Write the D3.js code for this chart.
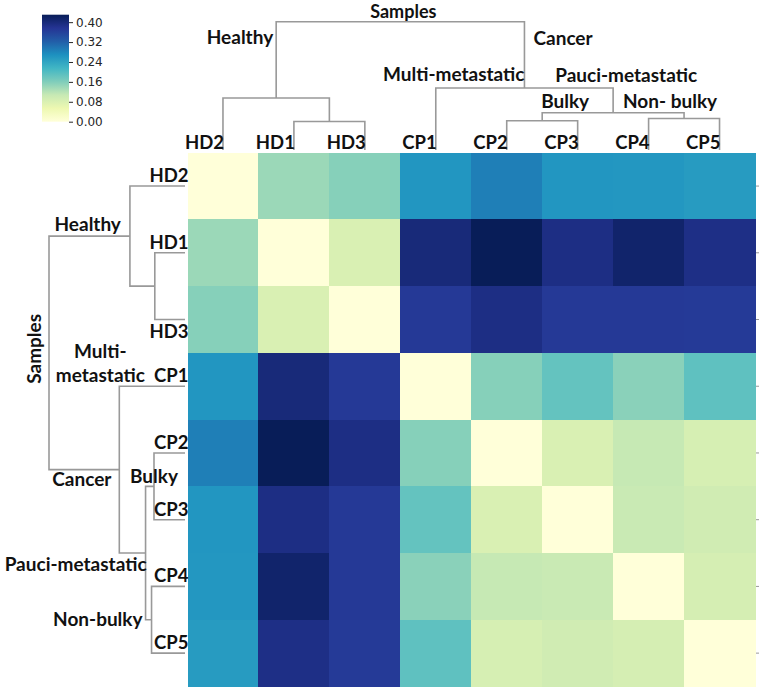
<!DOCTYPE html>
<html>
<head>
<meta charset="utf-8">
<script src="https://cdn.jsdelivr.net/npm/d3@7"></script>
<style>
  body { margin: 0; background: #fff; }
  svg { display: block; }
  .lbl { font-family: Lato, "Open Sans", sans-serif; font-weight: 700; font-size: 19px; fill: #111; }
  .lbl .top-leaf, .lbl .left-leaf { font-size: 18.5px; }
  .lbl .root-top { font-size: 18px; }
  .cbar text { font-family: "DejaVu Sans", sans-serif; font-size: 12px; fill: #262626; }
  .cbar line { stroke: #262626; }
  .dendro path { fill: none; stroke: #999; stroke-width: 1.6; }
</style>
</head>
<body>
<svg id="chart" width="760" height="691"></svg>
<script>
//---------------------------------//
// Data                            //
//---------------------------------//

var samples = ["HD2", "HD1", "HD3", "CP1", "CP2", "CP3", "CP4", "CP5"];

var distances = [                                   //pairwise distance, same order as samples
    [0.000, 0.140, 0.156, 0.262, 0.288, 0.262, 0.260, 0.254],
    [0.140, 0.000, 0.082, 0.400, 0.430, 0.391, 0.413, 0.389],
    [0.156, 0.082, 0.000, 0.370, 0.391, 0.370, 0.370, 0.368],
    [0.262, 0.400, 0.370, 0.000, 0.156, 0.185, 0.153, 0.189],
    [0.288, 0.430, 0.391, 0.156, 0.000, 0.082, 0.108, 0.086],
    [0.262, 0.391, 0.370, 0.185, 0.082, 0.000, 0.105, 0.095],
    [0.260, 0.413, 0.370, 0.153, 0.108, 0.105, 0.000, 0.088],
    [0.254, 0.389, 0.368, 0.189, 0.086, 0.095, 0.088, 0.000]
];

var colorMax = 0.43;                                //top of the colour bar
var colorTicks = [0.00, 0.08, 0.16, 0.24, 0.32, 0.40];

// linkage: node, child a, child b, merge height (root = 1)
var linkage = [
    ["HD1_HD3",  "HD1",     "HD3",      0.222],
    ["Healthy",  "HD2",     "HD1_HD3",  0.405],
    ["Bulky",    "CP2",     "CP3",      0.228],
    ["NonBulky", "CP4",     "CP5",      0.246],
    ["Pauci",    "Bulky",   "NonBulky", 0.290],
    ["Cancer",   "CP1",     "Pauci",    0.483],
    ["Root",     "Healthy", "Cancer",   1.000]
];

// group names written next to the tree nodes
var topGroups = [
    ["Healthy",  "Healthy",          -3,  -54,  "end"],
    ["Cancer",   "Cancer",           9,   -43,  "start"],
    ["Cancer",   "Multi-metastatic", 0,   -7,   "end"],
    ["Pauci",    "Pauci-metastatic", 13,  -31,  "middle"],
    ["Bulky",    "Bulky",            -1,  -13,  "start"],
    ["NonBulky", "Non- bulky",       -14, -10,  "middle"]
];

var leftGroups = [
    ["Healthy",  "Healthy",          -9,  -5,   "end"],
    ["Cancer",   "Multi-",           -19, -112, "middle"],
    ["Cancer",   "metastatic",       -19, -88,  "middle"],
    ["Cancer",   "Cancer",           -67, 16,   "start"],
    ["Bulky",    "Bulky",            -24, -3,   "start"],
    ["Pauci",    "Pauci-metastatic", 1,   18,   "end"],
    ["NonBulky", "Non-bulky",        -9,  6,    "end"]
];

//---------------------------------//
// Layout                          //
//---------------------------------//

var heat = {left: 187.5, right: 755, top: 152.7, bottom: 686.5};

var svg = d3.select('#chart');

var x = d3.scaleBand().domain(samples).range([heat.left, heat.right]);
var y = d3.scaleBand().domain(samples).range([heat.top, heat.bottom]);

var colors = d3.schemeYlGnBu[9];                    //matplotlib YlGnBu is linear between these
var color = d3.scaleLinear()
    .domain(d3.range(9).map(function(i) { return i * colorMax / 8; }))
    .range(colors)
    .interpolate(d3.interpolateRgb)
    .clamp(true);

//---------------------------------//
// Heatmap                         //
//---------------------------------//

var cells = [];
samples.forEach(function(r, i) {
    samples.forEach(function(c, j) {
        cells.push({row: r, col: c, v: distances[i][j]});
    });
});

svg.append('g')
    .selectAll('rect')
    .data(cells)
    .join('rect')
    .attr('x', function(d) { return x(d.col); })
    .attr('y', function(d) { return y(d.row); })
    .attr('width', x.bandwidth() + 0.5)
    .attr('height', y.bandwidth() + 0.5)
    .attr('fill', function(d) { return color(d.v); })
    .attr('shape-rendering', 'crispEdges');

// little ticks on the right edge
var rightAxis = svg.append('g')
    .attr('transform', 'translate(' + (heat.right + 1) + ',0)')
    .call(d3.axisRight(y).tickSize(3).tickSizeOuter(0).tickFormat(''));
rightAxis.select('.domain').remove();
rightAxis.selectAll('line').attr('stroke', '#999');

//---------------------------------//
// Dendrograms                     //
//---------------------------------//

function layoutTree(leafPos) {                      //position of every node along the leaf axis
    var pos = {}, height = {};
    samples.forEach(function(s) { pos[s] = leafPos(s); height[s] = 0; });
    linkage.forEach(function(l) {
        pos[l[0]] = (pos[l[1]] + pos[l[2]]) / 2;
        height[l[0]] = l[3];
    });
    return {pos: pos, height: height};
}

var topH = d3.scaleLinear().domain([0, 1]).range([150, 21.7]);
var leftH = d3.scaleLinear().domain([0, 1]).range([185, 49]);

var topTree = layoutTree(function(s) { return x(s) + x.bandwidth() / 2; });
var leftTree = layoutTree(function(s) { return y(s) + y.bandwidth() / 2; });

function elbow(tree, l, hs, vertical) {             //U-shaped link for one merge
    var a = l[1], b = l[2], hn = hs(l[3]);
    var pts = [[tree.pos[a], hs(tree.height[a])], [tree.pos[a], hn],
               [tree.pos[b], hn], [tree.pos[b], hs(tree.height[b])]];
    if (!vertical) pts = pts.map(function(p) { return [p[1], p[0]]; });
    return d3.line()(pts);
}

svg.append('g').attr('class', 'dendro')
    .selectAll('path')
    .data(linkage)
    .join('path')
    .attr('d', function(l) { return elbow(topTree, l, topH, true); });

svg.append('g').attr('class', 'dendro')
    .selectAll('path')
    .data(linkage)
    .join('path')
    .attr('d', function(l) { return elbow(leftTree, l, leftH, false); });

//---------------------------------//
// Labels                          //
//---------------------------------//

var labels = svg.append('g').attr('class', 'lbl');

labels.selectAll('text.top-leaf')
    .data(samples)
    .join('text')
    .attr('class', 'top-leaf')
    .attr('x', function(s) { return topTree.pos[s] + 1; })
    .attr('y', 149)
    .attr('text-anchor', 'end')
    .text(function(s) { return s; });

labels.selectAll('text.left-leaf')
    .data(samples)
    .join('text')
    .attr('class', 'left-leaf')
    .attr('x', heat.left + 1)
    .attr('y', function(s) { return leftTree.pos[s] + (s === 'HD3' ? 18 : -4); })
    .attr('text-anchor', 'end')
    .text(function(s) { return s; });

labels.selectAll('text.top-group')
    .data(topGroups)
    .join('text')
    .attr('class', 'top-group')
    .attr('x', function(g) { return topTree.pos[g[0]] + g[2]; })
    .attr('y', function(g) { return topH(topTree.height[g[0]]) + g[3]; })
    .attr('text-anchor', function(g) { return g[4]; })
    .text(function(g) { return g[1]; });

labels.selectAll('text.left-group')
    .data(leftGroups)
    .join('text')
    .attr('class', 'left-group')
    .attr('x', function(g) { return leftH(leftTree.height[g[0]]) + g[2]; })
    .attr('y', function(g) { return leftTree.pos[g[0]] + g[3]; })
    .attr('text-anchor', function(g) { return g[4]; })
    .text(function(g) { return g[1]; });

// titles of both trees, just above / left of the root
labels.append('text')
    .attr('class', 'root-top')
    .attr('x', topTree.pos['Root'] + 3)
    .attr('y', topH(1) - 3.7)
    .attr('text-anchor', 'middle')
    .text('Samples');

var rootX = leftH(1) - 8, rootY = leftTree.pos['Root'] - 4;
labels.append('text')
    .attr('transform', 'translate(' + rootX + ',' + rootY + ') rotate(-90)')
    .attr('text-anchor', 'middle')
    .text('Samples');

//---------------------------------//
// Colour bar                      //
//---------------------------------//

var cb = {x: 42, w: 27, top: 14.7, bottom: 121.7};
var cbScale = d3.scaleLinear().domain([0, colorMax]).range([cb.bottom, cb.top]);

var grad = svg.append('defs').append('linearGradient')
    .attr('id', 'cbgrad')
    .attr('x1', 0).attr('y1', 1).attr('x2', 0).attr('y2', 0);
grad.selectAll('stop')
    .data(color.domain())
    .join('stop')
    .attr('offset', function(d) { return d / colorMax; })
    .attr('stop-color', function(d) { return color(d); });

svg.append('rect')
    .attr('x', cb.x).attr('y', cb.top)
    .attr('width', cb.w).attr('height', cb.bottom - cb.top)
    .attr('fill', 'url(#cbgrad)');

var cbAxis = svg.append('g')
    .attr('class', 'cbar')
    .attr('transform', 'translate(' + (cb.x + cb.w) + ',0)')
    .call(d3.axisRight(cbScale).tickValues(colorTicks).tickSize(4).tickPadding(3)
          .tickFormat(d3.format('.2f')));
cbAxis.select('.domain').remove();
</script>
</body>
</html>
